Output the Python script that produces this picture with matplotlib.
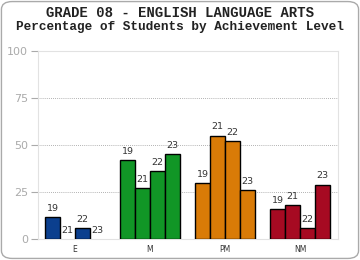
import matplotlib
matplotlib.use('Agg')
import matplotlib.pyplot as plt
from matplotlib.patches import FancyBboxPatch
import numpy as np

levels = ['E', 'M', 'PM', 'NM']
years = ['19', '21', '22', '23']
values = {
    'E': [12, 0, 6, 0],
    'M': [42, 27, 36, 45],
    'PM': [30, 55, 52, 26],
    'NM': [16, 18, 6, 29],
}
colors = {'E': '#0b3f8e', 'M': '#119626', 'PM': '#d97b07', 'NM': '#a60a22'}
yticks = [0, 25, 50, 75, 100]

fig = plt.figure(figsize=(3.6, 2.6), dpi=100)
fig.patches.append(FancyBboxPatch((0.004, 0.006), 0.992, 0.988,
                                  boxstyle='round,pad=0,rounding_size=0.03',
                                  transform=fig.transFigure, facecolor='none',
                                  edgecolor='#aaaaaa', linewidth=1.0))
ax = fig.add_axes([37.5 / 360, 20.7 / 260, 300 / 360, 188.5 / 260])
ax.set_facecolor('none')

width = 0.2
for i, lev in enumerate(levels):
    for j, yr in enumerate(years):
        x = i + (j - 1.5) * width
        v = values[lev][j]
        if v > 0:
            ax.bar(x, v, width=width, color=colors[lev], edgecolor='black', linewidth=1.0, zorder=3)
        ax.annotate(yr, (x, v), xytext=(0, 3), textcoords='offset points',
                    ha='center', va='bottom', fontsize=6.8, color='#333333',
                    family='DejaVu Sans')

ax.set_xlim(-0.5, 3.5)
ax.set_ylim(0, 100)
ax.set_xticks(range(len(levels)))
ax.set_xticklabels(levels, fontsize=5.5, color='#333333')
ax.tick_params(axis='x', length=0, pad=4)
ax.set_yticks(yticks)
ax.set_yticklabels([str(t) for t in yticks], fontsize=8, color='#aaaaaa')
ax.tick_params(axis='y', length=5, color='#aaaaaa', width=0.8, pad=2)
for t in [25, 50, 75]:
    ax.axhline(t, color='#999999', linestyle=(0, (1, 1.5)), linewidth=0.6, zorder=1)
for s in ax.spines.values():
    s.set_color('#e2e2e2')
    s.set_linewidth(0.8)

fig.text(0.5, 0.950, 'GRADE 08 - ENGLISH LANGUAGE ARTS', ha='center', va='center',
         fontsize=10, fontweight='bold', family='Liberation Mono', color='#222222')
fig.text(0.5, 0.898, 'Percentage of Students by Achievement Level', ha='center', va='center',
         fontsize=9.2, fontweight='bold', family='Liberation Mono', color='#222222')

fig.savefig('out.png', dpi=100)
